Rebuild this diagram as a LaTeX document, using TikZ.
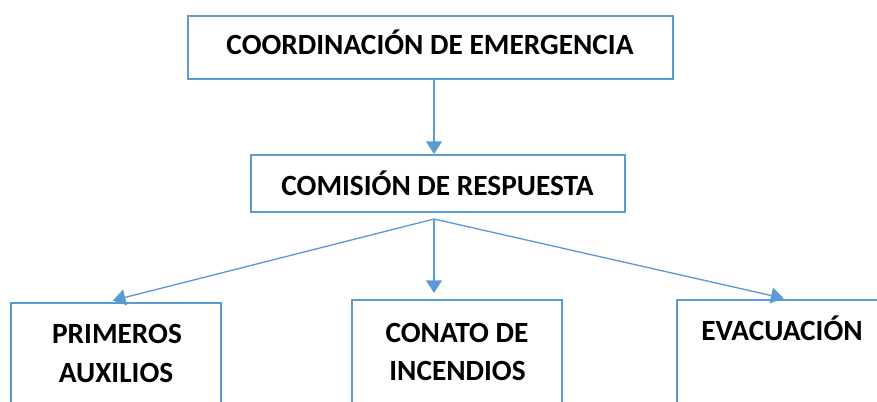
\documentclass[tikz,border=0pt]{standalone}
\usepackage{fontspec}
\setmainfont{Carlito}
\usetikzlibrary{arrows.meta}
\definecolor{boxblue}{HTML}{5B9BD5}
\tikzset{
  box/.style={draw=boxblue, line width=1.5pt, rectangle, inner sep=0pt},
  lbl/.style={anchor=base, inner sep=0pt, font=\fontsize{22}{26}\selectfont\bfseries},
  link/.style={draw=boxblue, line width=1pt, -{Triangle[width=12pt,length=9.5pt]}}
}
\begin{document}
\begin{tikzpicture}[x=0.75pt,y=-0.75pt]
      \useasboundingbox (0,0) rectangle (877,401);
      \clip (0,0) rectangle (877,401);
      % boxes
      \draw
        (430.5,47.5) node[box, minimum width=363.75pt, minimum height=47.25pt] (coord){}
        (438,183.5) node[box, minimum width=280.5pt, minimum height=42.75pt] (resp){}
        (116,371.5) node[box, minimum width=157.5pt, minimum height=102.75pt] (prim){}
        (457,370) node[box, minimum width=157.5pt, minimum height=105pt] (conato){}
        (788.5,370) node[box, minimum width=167.25pt, minimum height=105pt] (evac){};
      % texts
      \draw
        (430,54.5) node[lbl] (coordtxt){COORDINACIÓN DE EMERGENCIA}
        (437.5,195) node[lbl] (resptxt){COMISIÓN DE RESPUESTA}
        (117,343) node[lbl] (primtxt){PRIMEROS}
        (116,382) node[lbl] (auxtxt){AUXILIOS}
        (457,342) node[lbl] (conatotxt){CONATO DE}
        (457.5,380) node[lbl] (incendtxt){INCENDIOS}
        (782,340) node[lbl] (evactxt){EVACUACIÓN};
      \coordinate (fan) at (434,219);
      \begin{scope}[link]
        \draw (coord.south -| fan) to (resp.north -| fan);
        \draw[shorten >=4.5pt] (fan) to ([xshift=-6.75pt]prim.north);
        \draw[shorten >=4.5pt] (fan) to (fan |- conato.north);
        \draw[shorten >=2.25pt] (fan) to ([xshift=-1.5pt]evac.north);
      \end{scope}
    \end{tikzpicture}
\end{document}
